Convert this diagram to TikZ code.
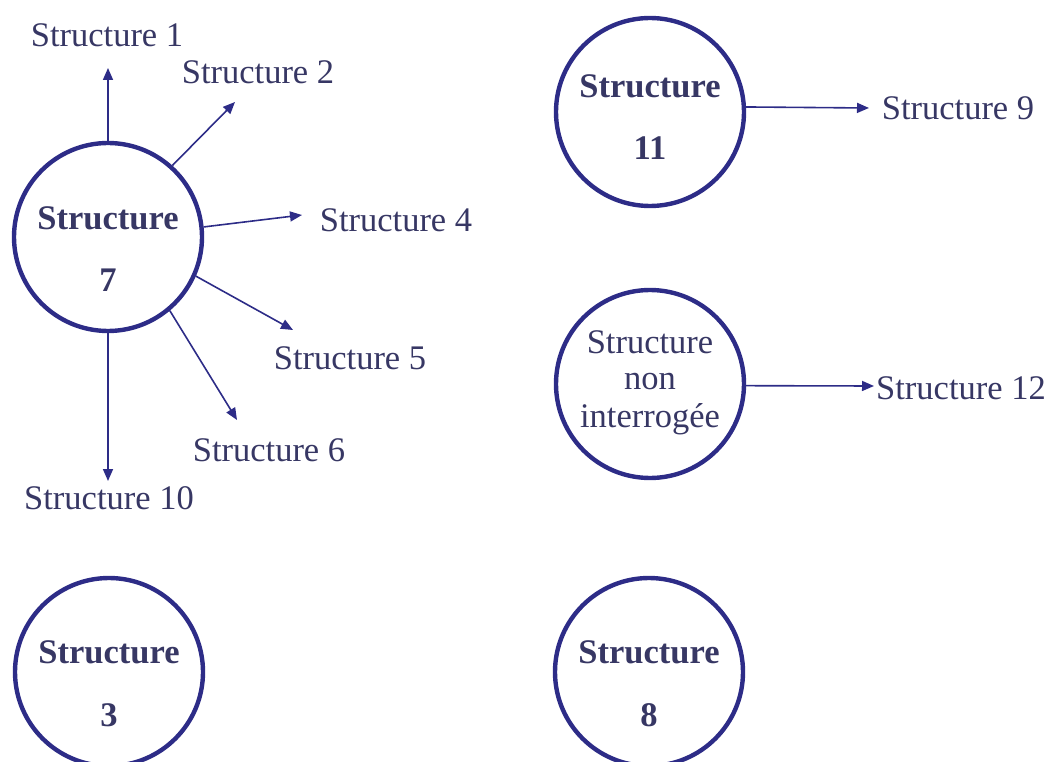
\documentclass[tikz,border=0pt]{standalone}
\usepackage{fontspec}
\setmainfont{Liberation Serif}
\usetikzlibrary{arrows.meta}
\definecolor{ringblue}{RGB}{45,44,135}
\definecolor{txtblue}{RGB}{55,55,100}
\begin{document}
\begin{tikzpicture}[x=1pt,y=-1pt,
  ring/.style={circle,draw=ringblue,line width=4.4pt,minimum size=188pt,inner sep=0pt},
  lbl/.style={text=txtblue,inner sep=0pt,font=\fontsize{34.5}{40}\selectfont},
  blbl/.style={text=txtblue,inner sep=0pt,font=\fontsize{34.5}{40}\selectfont\bfseries},
  arr/.style={draw=ringblue,line width=1.6pt,-{Triangle[length=12pt,width=10pt]}}]
\useasboundingbox (0,0) rectangle (1053,762);
% circles
\node[ring] (c7) at (108,237) {};
\node[ring] (c11) at (650,112) {};
\node[ring] (cni) at (650,384) {};
\node[ring] (c3) at (109,672) {};
\node[ring] (c8) at (649,672) {};
% circle texts
\node[blbl] (c7a) at (108,218) {Structure};
\node[blbl] (c7b) at (108,280) {7};
\node[blbl] (c11a) at (650,86) {Structure};
\node[blbl] (c11b) at (650,148) {11};
\node[lbl,anchor=base] (cnia) at (650,353) {Structure};
\node[lbl,anchor=base] (cnib) at (650,389) {non};
\node[lbl,anchor=base] (cnic) at (650,427) {interrogée};
\node[blbl] (c3a) at (109,652) {Structure};
\node[blbl] (c3b) at (109,715) {3};
\node[blbl] (c8a) at (649,652) {Structure};
\node[blbl] (c8b) at (649,715) {8};
% outer labels
\node[lbl] (s1) at (107,35) {Structure 1};
\node[lbl] (s2) at (258,72) {Structure 2};
\node[lbl] (s4) at (396,220) {Structure 4};
\node[lbl] (s5) at (350,358) {Structure 5};
\node[lbl] (s6) at (269,450) {Structure 6};
\node[lbl] (s10) at (109,498) {Structure 10};
\node[lbl] (s9) at (958,108) {Structure 9};
\node[lbl] (s12) at (961,388) {Structure 12};
% arrow tips
\coordinate (t1) at (108,68);
\coordinate (t2) at (235,102);
\coordinate (t4) at (302,215);
\coordinate (t5) at (293,330);
\coordinate (t6) at (237,420);
\coordinate (t10) at (108,481);
\coordinate (t9) at (869,108);
\coordinate (t12) at (874,386);
% connectors
\draw[arr] (c7.90) -- (t1);
\draw[arr] (c7.48) -- (t2);
\draw[arr] (c7.6) -- (t4);
\draw[arr] (c7.-24) -- (t5);
\draw[arr] (c7.-50) -- (t6);
\draw[arr] (c7.-90) -- (t10);
\draw[arr] (c11.3) -- (t9);
\draw[arr] (cni.-1) -- (t12);
\end{tikzpicture}
\end{document}
